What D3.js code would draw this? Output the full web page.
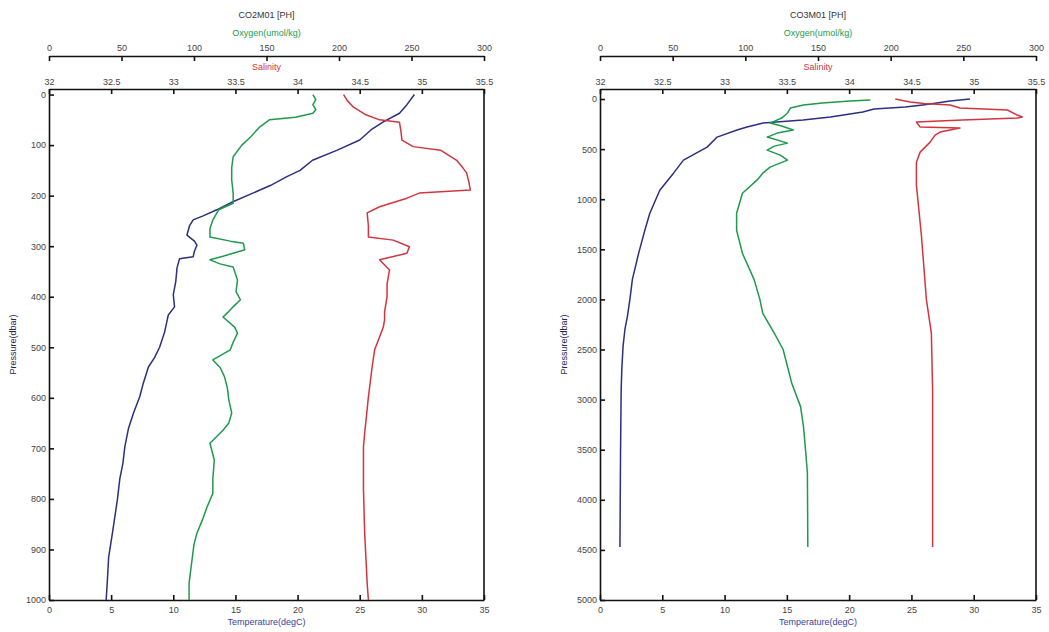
<!DOCTYPE html>
<html>
<head>
<meta charset="utf-8">
<script src="https://cdn.jsdelivr.net/npm/d3@7"></script>
<style>
  body { margin: 0; background: #fff; }
  svg { display: block; font-family: 'Liberation Sans', Arial, sans-serif; }
  .axis path, .axis line { stroke: #111; stroke-width: 1.6; }
  .axis text { font-size: 9px; fill: #444; }
  .lab { font-size: 9px; text-anchor: middle; }
</style>
</head>
<body>
<svg width="1049" height="632"></svg>
<script>
// [pressure (dbar), value] profiles

// CO2M01
const co2Temperature = [
  [0, 29.4], [20, 28.8], [37, 28.2], [54, 26.9], [70, 25.9], [90, 25.0], [110, 23.2],
  [130, 21.2], [150, 20.2], [163, 19.1], [180, 17.8], [195, 16.4], [212, 14.8],
  [228, 13.5], [240, 12.4], [248, 11.6], [260, 11.3], [278, 11.1], [290, 11.7],
  [298, 11.9], [310, 11.7], [321, 11.6], [325, 10.5], [343, 10.3], [370, 10.2],
  [396, 10.0], [420, 10.1], [436, 9.6], [470, 9.3], [500, 8.9], [520, 8.5],
  [539, 8.0], [570, 7.6], [598, 7.3], [630, 6.8], [660, 6.4], [697, 6.1],
  [729, 5.95], [760, 5.7], [802, 5.5], [835, 5.3], [868, 5.1], [915, 4.8],
  [960, 4.7], [1000, 4.6]
];
const co2Oxygen = [
  [0, 182], [10, 184], [20, 182], [30, 184], [37, 182], [45, 170], [50, 152],
  [65, 145], [84, 139], [100, 133], [123, 127], [145, 126], [169, 126], [195, 127],
  [215, 127], [228, 117], [248, 113], [265, 111], [282, 111], [290, 125], [294, 134],
  [307, 135], [320, 120], [327, 111], [335, 118], [341, 127], [367, 130], [390, 129],
  [406, 132], [420, 127], [432, 123], [440, 120], [460, 128], [472, 130], [490, 127],
  [505, 125], [525, 113], [540, 118], [558, 121], [580, 123], [604, 124], [630, 126],
  [650, 124], [664, 120], [690, 111], [723, 114], [760, 113], [789, 113], [816, 109],
  [840, 106], [868, 102], [890, 100], [921, 98.6], [967, 96.6], [1000, 96.6]
];
const co2Salinity = [
  [0, 34.37], [12, 34.4], [25, 34.45], [40, 34.55], [50, 34.66], [55, 34.82],
  [70, 34.83], [90, 34.84], [103, 34.93], [110, 35.15], [130, 35.28], [145, 35.33],
  [155, 35.36], [175, 35.38], [189, 35.39], [195, 34.98], [205, 34.88], [222, 34.66],
  [234, 34.56], [260, 34.57], [282, 34.57], [288, 34.77], [301, 34.9], [314, 34.88],
  [327, 34.66], [347, 34.74], [375, 34.72], [400, 34.72], [430, 34.7], [446, 34.7],
  [460, 34.69], [505, 34.62], [539, 34.6], [598, 34.57], [670, 34.54], [697, 34.53],
  [780, 34.53], [868, 34.54], [967, 34.56], [1000, 34.57]
];

// CO3M01
const co3Temperature = [
  [0, 29.7], [20, 28.1], [50, 26.5], [60, 25.9], [80, 24.5], [100, 22.0], [130, 21.1],
  [180, 18.5], [210, 16.3], [240, 13.1], [280, 11.8], [310, 11.0], [380, 9.4],
  [480, 8.6], [610, 6.7], [740, 5.9], [910, 4.8], [1140, 4.0], [1310, 3.6],
  [1540, 3.1], [1800, 2.6], [2000, 2.4], [2170, 2.2], [2300, 2.0], [2470, 1.85],
  [2700, 1.75], [2900, 1.7], [3500, 1.65], [4470, 1.6]
];
const co3Oxygen = [
  [10, 186], [20, 172], [40, 153], [60, 140], [90, 131], [140, 129], [190, 125],
  [240, 117], [270, 125], [310, 133], [340, 122], [380, 115], [440, 129], [470, 120],
  [510, 115], [560, 124], [610, 129], [680, 117], [740, 112], [810, 108], [940, 98],
  [1140, 94], [1310, 94], [1540, 98], [1800, 106], [2000, 110], [2140, 112],
  [2340, 120], [2500, 126], [2670, 129], [2840, 132], [3070, 138], [3270, 140],
  [3430, 141], [3730, 142.7], [4470, 143]
];
const co3Salinity = [
  [0, 34.37], [30, 34.49], [45, 34.6], [60, 34.81], [90, 34.89], [110, 35.27],
  [160, 35.35], [180, 35.39], [190, 35.35], [210, 34.91], [230, 34.54], [280, 34.57],
  [290, 34.89], [330, 34.73], [360, 34.69], [430, 34.65], [530, 34.57], [630, 34.54],
  [860, 34.54], [1360, 34.58], [2000, 34.62], [2340, 34.66], [2900, 34.67], [4470, 34.67]
];

// tick labels
const tempTicks = [0, 5, 10, 15, 20, 25, 30, 35];
const oxygenTicks = [0, 50, 100, 150, 200, 250, 300];
const salinityTicks = [32, 32.5, 33, 33.5, 34, 34.5, 35, 35.5];
const co2PressureTicks = [0, 100, 200, 300, 400, 500, 600, 700, 800, 900, 1000];
const co3PressureTicks = [0, 500, 1000, 1500, 2000, 2500, 3000, 3500, 4000, 4500, 5000];

const blue = '#2c2f7e', green = '#1f9a4c', red = '#d2353f';
const svg = d3.select('svg');

function drawPanel(opt) {
  const top = 89, bottom = 600;
  const xT = d3.scaleLinear().domain([0, 35]).range([opt.x0, opt.x1]);
  const xO = d3.scaleLinear().domain([0, 300]).range([opt.x0, opt.x1]);
  const xS = d3.scaleLinear().domain([32, 35.5]).range([opt.x0, opt.x1]);
  const y = d3.scaleLinear().domain(opt.pDomain).range([top, bottom]);
  const g = svg.append('g');

  // bottom temperature axis
  g.append('g').attr('class', 'axis')
    .attr('transform', `translate(0,${bottom})`)
    .call(d3.axisBottom(xT).tickValues(tempTicks).tickSizeInner(-5).tickSizeOuter(0).tickPadding(7));

  // left pressure axis
  g.append('g').attr('class', 'axis')
    .attr('transform', `translate(${opt.x0},0)`)
    .call(d3.axisLeft(y).tickValues(opt.pTicks).tickFormat(d3.format('d'))
      .tickSizeInner(-5).tickSizeOuter(0).tickPadding(3));

  // right frame line
  g.append('line')
    .attr('x1', opt.x1).attr('x2', opt.x1).attr('y1', top).attr('y2', bottom)
    .attr('stroke', '#111').attr('stroke-width', 1.6);

  // salinity axis (frame top)
  g.append('g').attr('class', 'axis')
    .attr('transform', `translate(0,${top})`)
    .call(d3.axisTop(xS).tickValues(salinityTicks).tickFormat(d3.format('')).tickSizeInner(-5).tickSizeOuter(0).tickPadding(4));

  // oxygen axis
  g.append('g').attr('class', 'axis')
    .attr('transform', 'translate(0,56)')
    .call(d3.axisTop(xO).tickValues(oxygenTicks).tickSizeInner(-5).tickSizeOuter(0).tickPadding(5));

  g.selectAll('.axis text').attr('font-family', null);

  const cx = (opt.x0 + opt.x1) / 2;
  g.append('text').attr('class', 'lab').attr('x', cx).attr('y', 18).attr('fill', '#333').text(opt.title);
  g.append('text').attr('class', 'lab').attr('x', cx).attr('y', 36).attr('fill', green).text('Oxygen(umol/kg)');
  g.append('text').attr('class', 'lab').attr('x', cx).attr('y', 70).attr('fill', red).text('Salinity');
  g.append('text').attr('class', 'lab').attr('x', cx).attr('y', 625).attr('fill', '#3a3f9a').text('Temperature(degC)');
  g.append('text').attr('class', 'lab')
    .attr('transform', `translate(${opt.labelX},${(top + bottom) / 2}) rotate(-90)`)
    .attr('fill', '#1e2350').text('Pressure(dbar)');

  const series = [
    { data: opt.temp, x: xT, color: blue },
    { data: opt.oxy, x: xO, color: green },
    { data: opt.sal, x: xS, color: red }
  ];
  series.forEach(s => {
    const line = d3.line().x(d => s.x(d[1])).y(d => y(d[0]));
    g.append('path').datum(s.data)
      .attr('d', line)
      .attr('fill', 'none')
      .attr('stroke', s.color)
      .attr('stroke-width', 1.5)
      .attr('stroke-linejoin', 'round');
  });
}

drawPanel({
  x0: 49, x1: 484, pDomain: [-11, 1000], pTicks: co2PressureTicks,
  title: 'CO2M01 [PH]', labelX: 16,
  temp: co2Temperature, oxy: co2Oxygen, sal: co2Salinity
});
drawPanel({
  x0: 600, x1: 1036, pDomain: [-100, 5000], pTicks: co3PressureTicks,
  title: 'CO3M01 [PH]', labelX: 567,
  temp: co3Temperature, oxy: co3Oxygen, sal: co3Salinity
});
</script>
</body>
</html>
